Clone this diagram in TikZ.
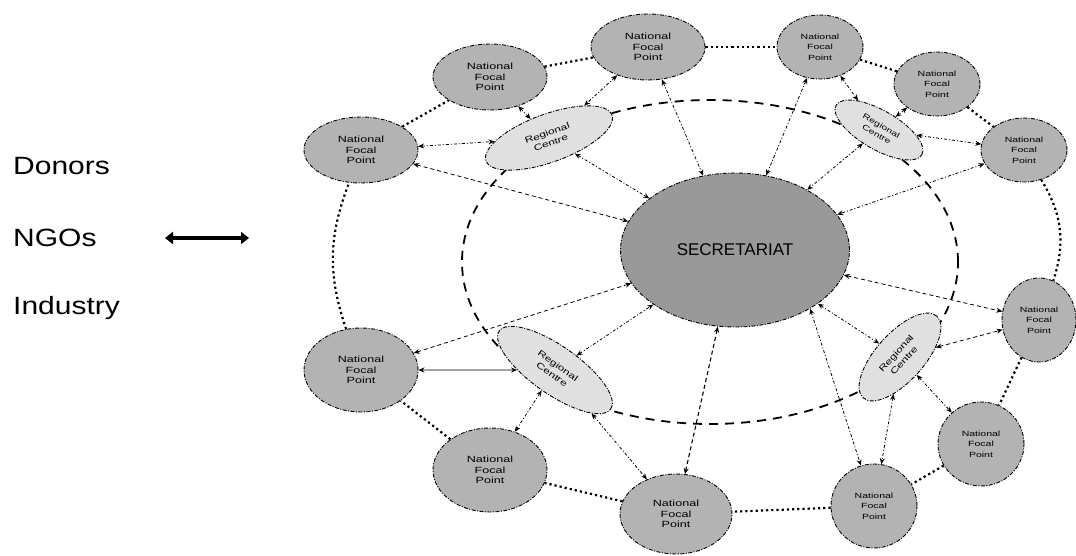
\documentclass[tikz,border=0pt]{standalone}
\usepackage{fontspec}
\setmainfont{Liberation Sans}
\newfontfamily\widefont[FakeStretch=1.2]{Liberation Sans}
\newfontfamily\nodefont[FakeStretch=1.4]{Liberation Sans}
\usepackage{tikz}
\usetikzlibrary{shapes.geometric, arrows.meta, calc}
\definecolor{focalgray}{HTML}{B3B3B3}
\definecolor{secgray}{HTML}{999999}
\definecolor{centregray}{HTML}{E0E0E0}
\tikzset{
  focal_point/.style={ellipse, draw=black, fill=focalgray, line width=0.9pt, dash pattern=on 4pt off 1.5pt on 1pt off 1.5pt, inner sep=0pt, align=center, font=\nodefont\fontsize{9}{10.5}\selectfont},
  focal_wide/.style={focal_point, minimum width=114pt, minimum height=66pt},
  focal_tall/.style={focal_point, minimum width=114pt, minimum height=84pt},
  focal_small/.style={focal_point, minimum width=86pt, minimum height=64pt, font=\nodefont\fontsize{7.5}{10.5}\selectfont},
  focal_round/.style={focal_point, minimum width=86pt, minimum height=84pt, font=\nodefont\fontsize{7.5}{10.5}\selectfont},
  regional_centre/.style={ellipse, draw=black, fill=centregray, line width=0.9pt, dash pattern=on 4pt off 1.5pt on 1pt off 1.5pt, inner sep=0pt, align=center, font=\nodefont\fontsize{8.5}{10.5}\selectfont},
  secretariat_box/.style={ellipse, draw=black, fill=secgray, line width=0.9pt, dash pattern=on 4pt off 1.5pt on 1pt off 1.5pt, minimum width=229pt, minimum height=154pt, font=\fontsize{17}{20}\selectfont},
  link/.style={<->, >={Stealth[length=6pt, width=5pt]}, line width=0.8pt, dash pattern=on 3pt off 2pt on 1pt off 2pt},
  link_dashed/.style={link, dash pattern=on 4pt off 3pt},
  ring/.style={line width=2.2pt, dash pattern=on 2.2pt off 3pt},
  centre_ring/.style={line width=1.8pt, dash pattern=on 9pt off 7pt},
  side_label/.style={anchor=base west, inner sep=0pt, font=\widefont\fontsize{25}{30}\selectfont},
  side_arrow/.style={<->, >={Triangle[length=8pt, width=12pt]}, line width=4.5pt}
}

\begin{document}
\begin{tikzpicture}[x=1pt, y=-1pt]
  \useasboundingbox (0,0) rectangle (1076,556);

  % --- 1. Stakeholders (Left) ---
  \node[side_label] (donors) at (13,175) {Donors};
  \node[side_label] (ngos) at (13,247) {NGOs};
  \node[side_label] (industry) at (13,314) {Industry};
  \coordinate (LinkLeft) at (165,238);
  \coordinate (LinkRight) at (249,238);
  \draw[side_arrow] (LinkLeft) -- (LinkRight);

  % --- 2. Ring through the regional centres ---
  \draw[centre_ring] (710,262) ellipse [x radius=248pt, y radius=162pt];

  % --- 3. Secretariat (Center) ---
  \node[secretariat_box] (sec) at (735,250) {SECRETARIAT};

  % --- 4. Regional Centres ---
  \node[regional_centre, rotate=20, minimum width=134pt, minimum height=48pt] (rc_1) at (549,138) {Regional\\Centre};
  \node[regional_centre, rotate=-30, minimum width=99pt, minimum height=39pt, font=\nodefont\fontsize{7.5}{9.5}\selectfont] (rc_2) at (879,130) {Regional\\Centre};
  \node[regional_centre, rotate=-35, minimum width=136pt, minimum height=48pt] (rc_3) at (555,370) {Regional\\Centre};
  \node[regional_centre, rotate=48, minimum width=110pt, minimum height=48pt] (rc_4) at (900,357) {Regional\\Centre};

  % --- 5. National Focal Points (clockwise from left) ---
  \node[focal_wide] (nfp_1) at (361,150) {National\\Focal\\Point};
  \node[focal_wide] (nfp_2) at (490,77) {National\\Focal\\Point};
  \node[focal_wide] (nfp_3) at (648,47) {National\\Focal\\Point};
  \node[focal_small] (nfp_4) at (820,47) {National\\Focal\\Point};
  \node[focal_small] (nfp_5) at (937,84) {National\\Focal\\Point};
  \node[focal_small] (nfp_6) at (1024,150) {National\\Focal\\Point};
  \node[focal_round, minimum width=74pt] (nfp_7) at (1039,320) {National\\Focal\\Point};
  \node[focal_round] (nfp_8) at (981,444) {National\\Focal\\Point};
  \node[focal_round] (nfp_9) at (874,506) {National\\Focal\\Point};
  \node[focal_tall, minimum width=112pt, minimum height=80pt] (nfp_10) at (676,514) {National\\Focal\\Point};
  \node[focal_tall] (nfp_11) at (490,470) {National\\Focal\\Point};
  \node[focal_tall] (nfp_12) at (361,370) {National\\Focal\\Point};

  % --- 6. Outer ring between focal points ---
  \draw[ring] (nfp_1) -- (nfp_2);
  \draw[ring] (nfp_2) -- (nfp_3);
  \draw[ring] (nfp_3) -- (nfp_4);
  \draw[ring] (nfp_4) -- (nfp_5);
  \draw[ring] (nfp_5) -- (nfp_6);
  \draw[ring] (nfp_6) to[bend left=25] (nfp_7);
  \draw[ring] (nfp_7) -- (nfp_8);
  \draw[ring] (nfp_8) -- (nfp_9);
  \draw[ring] (nfp_9) -- (nfp_10);
  \draw[ring] (nfp_10) -- (nfp_11);
  \draw[ring] (nfp_11) -- (nfp_12);
  \draw[ring] (nfp_12) to[bend left=20] (nfp_1);

  % --- 7. Links ---
  \draw[link] (nfp_1) -- (rc_1);
  \draw[link_dashed] (nfp_1) -- (sec);
  \draw[link] (nfp_2) -- (rc_1);
  \draw[link] (nfp_3) -- (rc_1);
  \draw[link] (nfp_3) -- (sec);
  \draw[link] (rc_1) -- (sec);
  \draw[link] (nfp_4) -- (sec);
  \draw[link] (nfp_4) -- (rc_2);
  \draw[link] (rc_2) -- (sec);
  \draw[link] (nfp_5) -- (rc_2);
  \draw[link] (rc_2) -- (nfp_6);
  \draw[link] (nfp_6) -- (sec);
  \draw[link_dashed] (sec) -- (nfp_7);
  \draw[link_dashed] (rc_4) -- (nfp_7);
  \draw[link] (sec) -- (rc_4);
  \draw[link] (rc_4) -- (nfp_8);
  \draw[link] (rc_4) -- (nfp_9);
  \draw[link] (sec.-38) -- (nfp_9);
  \draw[link_dashed, line width=1.1pt] (sec) -- (nfp_10);
  \draw[link] (rc_3) -- (nfp_10);
  \draw[link] (rc_3) -- (nfp_11);
  \draw[link] (rc_3) -- (sec);
  \draw[link, solid] (rc_3) -- (nfp_12);
  \draw[link_dashed] (nfp_12) -- (sec);
\end{tikzpicture}
\end{document}
